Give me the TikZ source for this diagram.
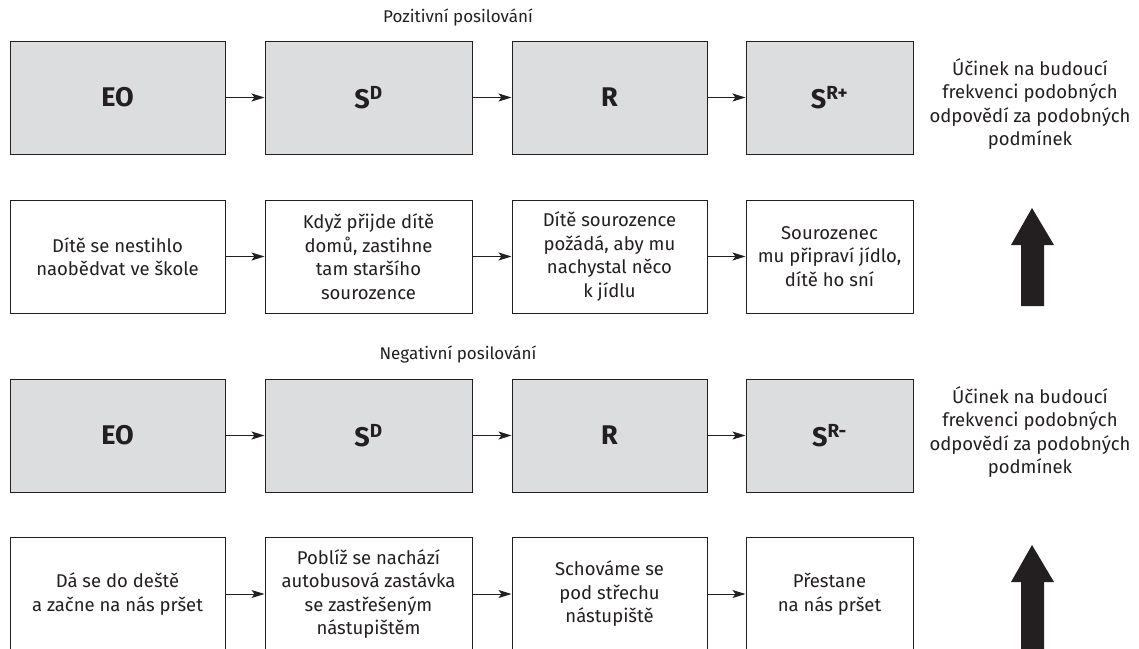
\documentclass[tikz,border=0pt]{standalone}
\usepackage{fontspec}
\setmainfont{Fira Sans}
\usetikzlibrary{arrows.meta}
\definecolor{boxgray}{HTML}{DCDDDE}
\definecolor{ink}{HTML}{231F20}
\tikzset{
  gbox/.style={draw=ink, line width=1pt, fill=boxgray, minimum height=113pt, inner sep=0pt, font=\fontsize{27}{30}\selectfont\bfseries, text=ink},
  wbox/.style={draw=ink, line width=1pt, fill=white, minimum height=113pt, inner sep=0pt, align=center, font=\fontsize{18.5}{23.5}\selectfont, text=ink},
  conn/.style={draw=ink, line width=1pt, -{Stealth[length=13pt, width=8pt, inset=3pt]}},
  lbl/.style={align=center, font=\fontsize{18.5}{23.5}\selectfont, text=ink},
  ttl/.style={align=center, font=\fontsize{17}{20}\selectfont, text=ink},
  bigarrow/.style={fill=ink, draw=none},
}
\begin{document}
\begin{tikzpicture}[x=1pt,y=-1pt]
\useasboundingbox (0,0) rectangle (1139,648);
% titles
\node[ttl] (t1) at (458,18) {Pozitivní posilování};
\node[ttl] (t2) at (458,354) {Negativní posilování};
% row 1
\node[gbox, minimum width=215pt] (a1) at (117.5,97.5) {EO};
\node[gbox, minimum width=207pt] (a2) at (368.5,97.5) {S\textsuperscript{D}};
\node[gbox, minimum width=195pt] (a3) at (609.5,97.5) {R};
\node[gbox, minimum width=167pt] (a4) at (829.5,97.5) {S\textsuperscript{R+}};
\draw[conn] (a1) -- (a2);
\draw[conn] (a2) -- (a3);
\draw[conn] (a3) -- (a4);
\node[lbl] (e1) at (1030,104) {Účinek na budoucí\\frekvenci podobných\\odpovědí za podobných\\podmínek};
% row 2
\node[wbox, minimum width=215pt] (b1) at (117.5,256.5) {Dítě se nestihlo\\naobědvat ve škole};
\node[wbox, minimum width=207pt] (b2) at (368.5,256.5) {Když přijde dítě\\domů, zastihne\\tam staršího\\sourozence};
\node[wbox, minimum width=195pt] (b3) at (609.5,256.5) {Dítě sourozence\\požádá, aby mu\\nachystal něco\\k jídlu};
\node[wbox, minimum width=167pt] (b4) at (829.5,256.5) {Sourozenec\\mu připraví jídlo,\\dítě ho sní};
\draw[conn] (b1) -- (b2);
\draw[conn] (b2) -- (b3);
\draw[conn] (b3) -- (b4);
\fill[bigarrow] (1032,208) -- (1054,245) -- (1044,245) -- (1044,306) -- (1021,306) -- (1021,245) -- (1011,245) -- cycle;
% row 3
\node[gbox, minimum width=215pt] (c1) at (117.5,435.5) {EO};
\node[gbox, minimum width=207pt] (c2) at (368.5,435.5) {S\textsuperscript{D}};
\node[gbox, minimum width=195pt] (c3) at (609.5,435.5) {R};
\node[gbox, minimum width=167pt] (c4) at (829.5,435.5) {S\textsuperscript{R-}};
\draw[conn] (c1) -- (c2);
\draw[conn] (c2) -- (c3);
\draw[conn] (c3) -- (c4);
\node[lbl] (e2) at (1030,432) {Účinek na budoucí\\frekvenci podobných\\odpovědí za podobných\\podmínek};
% row 4
\node[wbox, minimum width=215pt] (d1) at (117.5,594) {Dá se do deště\\a začne na nás pršet};
\node[wbox, minimum width=207pt] (d2) at (368.5,594) {Poblíž se nachází\\autobusová zastávka\\se zastřešeným\\nástupištěm};
\node[wbox, minimum width=195pt] (d3) at (609.5,594) {Schováme se\\pod střechu\\nástupiště};
\node[wbox, minimum width=167pt] (d4) at (829.5,594) {Přestane\\na nás pršet};
\draw[conn] (d1) -- (d2);
\draw[conn] (d2) -- (d3);
\draw[conn] (d3) -- (d4);
\fill[bigarrow] (1032,545) -- (1054,582) -- (1044,582) -- (1044,660) -- (1021,660) -- (1021,582) -- (1011,582) -- cycle;
\end{tikzpicture}
\end{document}
